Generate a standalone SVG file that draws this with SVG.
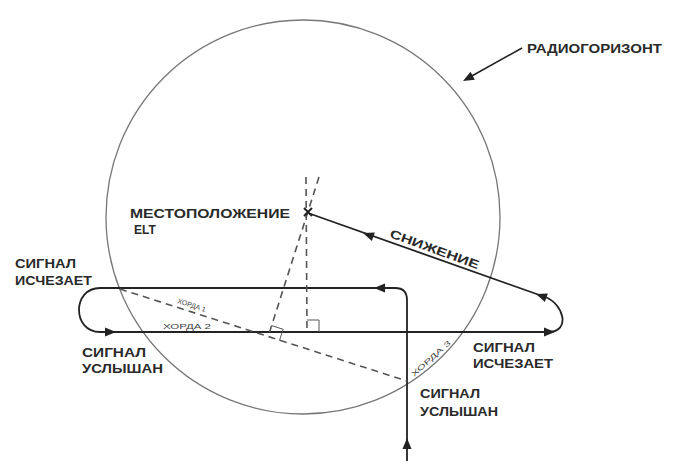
<svg xmlns="http://www.w3.org/2000/svg" width="675" height="461" viewBox="0 0 675 461">
<style>
.lbl{font-family:"Liberation Sans",Arial,sans-serif;font-size:12px;fill:#2a2a2a;font-weight:bold}
.sm{font-family:"Liberation Sans",Arial,sans-serif;font-size:7px;fill:#444}
.route{fill:none;stroke:#222;stroke-width:1.8}
.dash{fill:none;stroke:#555;stroke-width:1.6;stroke-dasharray:7 5}
.thin{fill:none;stroke:#555;stroke-width:1}
</style>
<defs>
<path id="ah" d="M0,0 L-11,-4.5 L-11,4.5 Z" fill="#222"/>
</defs>
<rect width="675" height="461" fill="#fff"/>
<g id="horizon">
<circle cx="303" cy="217" r="197" fill="none" stroke="#777" stroke-width="1.3"/>
</g>
<g id="connectors">
<path class="route" d="M407 461 L407 300 Q407 288 395 288 L100 288 C72 288 72 332 100 332 L548 332 C572 332 563 303 545 297 L308 213"/>
<use href="#ah" transform="translate(407,438) rotate(-90)"/>
<use href="#ah" transform="translate(374,288) rotate(180)"/>
<use href="#ah" transform="translate(116,332)"/>
<use href="#ah" transform="translate(555,332)"/>
<use href="#ah" transform="translate(536,294) rotate(199.7)"/>
<use href="#ah" transform="translate(363,233) rotate(199.7)"/>
<line x1="522" y1="48" x2="470" y2="77" stroke="#222" stroke-width="1.6"/>
<use href="#ah" transform="translate(463,81) rotate(151.5)"/>
<line class="dash" x1="120" y1="289" x2="407" y2="381"/>
<line class="dash" x1="319" y1="177" x2="268" y2="337"/>
<line class="dash" x1="306" y1="177" x2="307" y2="332"/>
<path class="thin" d="M279.4 340.7 L283.1 329.3 L271.7 325.6"/>
<path class="thin" d="M307 320 L319 320 L319 332"/>
</g>
<g id="elt">
<path d="M304 208 L312 216 M312 208 L304 216" stroke="#222" stroke-width="2"/>
<text class="lbl" x="130" y="218" textLength="160" lengthAdjust="spacingAndGlyphs">МЕСТОПОЛОЖЕНИЕ</text>
<text class="lbl" x="134" y="234">ELT</text>
</g>
<g id="radiohorizon-label">
<text class="lbl" x="527" y="53" textLength="135" lengthAdjust="spacingAndGlyphs">РАДИОГОРИЗОНТ</text>
</g>
<g id="descent-label">
<text class="lbl" x="389" y="237" transform="rotate(20 389 237)" textLength="94" lengthAdjust="spacingAndGlyphs">СНИЖЕНИЕ</text>
</g>
<g id="signal-lost-left">
<text class="lbl" x="15" y="268" textLength="61" lengthAdjust="spacingAndGlyphs">СИГНАЛ</text>
<text class="lbl" x="15" y="285" textLength="77" lengthAdjust="spacingAndGlyphs">ИСЧЕЗАЕТ</text>
</g>
<g id="signal-heard-left">
<text class="lbl" x="82" y="357" textLength="64" lengthAdjust="spacingAndGlyphs">СИГНАЛ</text>
<text class="lbl" x="82" y="373" textLength="81" lengthAdjust="spacingAndGlyphs">УСЛЫШАН</text>
</g>
<g id="signal-lost-right">
<text class="lbl" x="473" y="352" textLength="62" lengthAdjust="spacingAndGlyphs">СИГНАЛ</text>
<text class="lbl" x="473" y="368" textLength="80" lengthAdjust="spacingAndGlyphs">ИСЧЕЗАЕТ</text>
</g>
<g id="signal-heard-bottom">
<text class="lbl" x="420" y="398" textLength="60" lengthAdjust="spacingAndGlyphs">СИГНАЛ</text>
<text class="lbl" x="420" y="416" textLength="78" lengthAdjust="spacingAndGlyphs">УСЛЫШАН</text>
</g>
<g id="chords">
<text class="sm" x="177" y="303" transform="rotate(18 177 303)">ХОРДА 1</text>
<text class="sm" x="163" y="329" textLength="48" lengthAdjust="spacingAndGlyphs">ХОРДА 2</text>
<text class="sm" x="414" y="377" transform="rotate(-42 414 377)" textLength="50" lengthAdjust="spacingAndGlyphs">ХОРДА 3</text>
</g>
</svg>
